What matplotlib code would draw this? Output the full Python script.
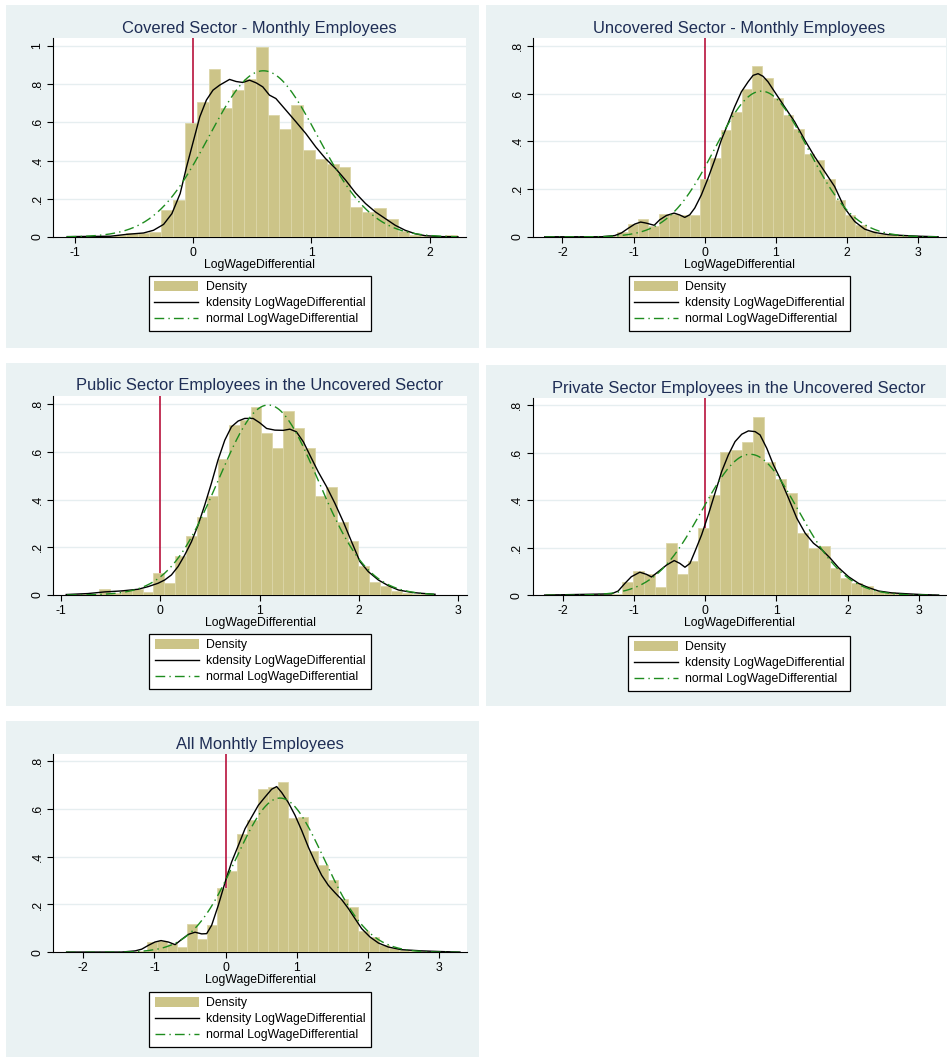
import numpy as np
import matplotlib
matplotlib.use("Agg")
import matplotlib.pyplot as plt
from matplotlib.patches import Rectangle, Patch
from matplotlib.lines import Line2D

plt.rcParams['font.family'] = ['Liberation Sans', 'DejaVu Sans']

W, H = 947, 1057

# ---------------- data ----------------
titles = [
    "Covered Sector - Monthly Employees",
    "Uncovered Sector - Monthly Employees",
    "Public Sector Employees in the Uncovered Sector",
    "Private Sector Employees in the Uncovered Sector",
    "All Monhtly Employees",
]

# histogram: first bin edge, bin width, bar heights
hist_start = [-1.07, -2.245, -0.94, -2.245, -2.245]
hist_width = [0.1, 0.1454, 0.1087, 0.1535, 0.1417]

dens1 = [0.003, 0.0, 0.005, 0.005, 0.01, 0.02, 0.022, 0.025, 0.141, 0.192,
         0.595, 0.705, 0.881, 0.674, 0.768, 0.824, 0.991, 0.637, 0.567, 0.688,
         0.454, 0.408, 0.380, 0.365, 0.157, 0.131, 0.152, 0.092, 0.031, 0.012,
         0.005, 0.005, 0.009]
dens2 = [0.002, 0.001, 0.001, 0.002, 0.002, 0.003, 0.003, 0.019, 0.054, 0.075,
         0.044, 0.096, 0.096, 0.092, 0.093, 0.242, 0.329, 0.447, 0.524, 0.617,
         0.714, 0.663, 0.583, 0.51, 0.45, 0.346, 0.322, 0.242, 0.156, 0.09,
         0.049, 0.024, 0.014, 0.01, 0.007, 0.004, 0.003, 0.001]
dens3 = [0.003, 0.004, 0.006, 0.024, 0.007, 0.02, 0.024, 0.011, 0.092, 0.052,
         0.163, 0.247, 0.328, 0.416, 0.569, 0.712, 0.733, 0.787, 0.68, 0.618,
         0.77, 0.698, 0.614, 0.416, 0.454, 0.306, 0.226, 0.123, 0.056, 0.036,
         0.017, 0.008, 0.006, 0.004]
dens4 = [0.004, 0.002, 0.002, 0.003, 0.004, 0.005, 0.004, 0.057, 0.104, 0.088,
         0.035, 0.221, 0.09, 0.144, 0.282, 0.422, 0.601, 0.611, 0.646, 0.748,
         0.559, 0.49, 0.43, 0.26, 0.2, 0.206, 0.113, 0.071, 0.053, 0.039,
         0.02, 0.012, 0.008, 0.005, 0.004, 0.002]
dens5 = [0.002, 0.001, 0.001, 0.002, 0.002, 0.003, 0.003, 0.006, 0.043, 0.046,
         0.036, 0.022, 0.12, 0.057, 0.113, 0.269, 0.339, 0.496, 0.552, 0.682,
         0.691, 0.712, 0.562, 0.566, 0.422, 0.364, 0.304, 0.224, 0.19, 0.09,
         0.065, 0.032, 0.018, 0.011, 0.007, 0.004, 0.003, 0.002, 0.001]
densities = [dens1, dens2, dens3, dens4, dens5]

# kernel density curves (x, y)
kd1_x = [-1.065, -0.70, -0.56, -0.42, -0.336, -0.25, -0.18, -0.11, -0.056, 0.0,
         0.056, 0.112, 0.168, 0.224, 0.308, 0.364, 0.42, 0.477, 0.533, 0.589,
         0.645, 0.70, 0.785, 0.87, 0.953, 1.037, 1.12, 1.205, 1.29, 1.374,
         1.458, 1.542, 1.626, 1.71, 1.794, 1.878, 1.962, 2.10, 2.24]
kd1_y = [0.002, 0.004, 0.014, 0.021, 0.035, 0.066, 0.122, 0.227, 0.366, 0.497,
         0.628, 0.716, 0.768, 0.794, 0.824, 0.813, 0.808, 0.82, 0.806, 0.785,
         0.742, 0.724, 0.663, 0.602, 0.541, 0.471, 0.41, 0.358, 0.297, 0.230,
         0.175, 0.131, 0.096, 0.061, 0.035, 0.017, 0.007, 0.002, 0.001]
kd2_x = [-2.247, -1.45, -1.264, -1.17, -1.077, -0.983, -0.9, -0.82, -0.71, -0.632,
         -0.538, -0.43, -0.35, -0.28, -0.21, -0.14, -0.047, 0.047, 0.14, 0.234,
         0.328, 0.42, 0.515, 0.61, 0.68, 0.75, 0.82, 0.89, 0.983, 1.124,
         1.264, 1.405, 1.545, 1.685, 1.826, 1.966, 2.107, 2.247, 2.388, 2.575,
         2.81, 3.04, 3.28]
kd2_y = [0.001, 0.001, 0.006, 0.017, 0.036, 0.054, 0.0625, 0.058, 0.049, 0.072,
         0.09, 0.1, 0.092, 0.082, 0.093, 0.121, 0.176, 0.246, 0.322, 0.406,
         0.475, 0.544, 0.607, 0.649, 0.676, 0.683, 0.672, 0.649, 0.607, 0.544,
         0.482, 0.406, 0.336, 0.274, 0.211, 0.121, 0.065, 0.033, 0.019, 0.01,
         0.006, 0.003, 0.001]
kd3_x = [-0.948, -0.73, -0.56, -0.393, -0.225, -0.124, -0.024, 0.044, 0.111, 0.178,
         0.245, 0.313, 0.38, 0.447, 0.514, 0.58, 0.649, 0.716, 0.783, 0.85,
         0.934, 1.0, 1.07, 1.153, 1.237, 1.304, 1.37, 1.44, 1.506, 1.59,
         1.674, 1.758, 1.842, 1.926, 2.01, 2.094, 2.195, 2.296, 2.397, 2.53,
         2.63, 2.766]
kd3_y = [0.002, 0.006, 0.013, 0.017, 0.024, 0.035, 0.049, 0.063, 0.084, 0.119,
         0.167, 0.223, 0.293, 0.377, 0.468, 0.565, 0.649, 0.705, 0.729, 0.74,
         0.74, 0.722, 0.698, 0.691, 0.69, 0.695, 0.684, 0.642, 0.586, 0.516,
         0.454, 0.384, 0.307, 0.223, 0.14, 0.098, 0.063, 0.039, 0.021, 0.011,
         0.007, 0.003]
kd4_x = [-2.258, -1.695, -1.32, -1.225, -1.13, -1.04, -0.92, -0.826, -0.756, -0.662,
         -0.545, -0.437, -0.357, -0.286, -0.216, -0.146, -0.052, 0.042, 0.136, 0.23,
         0.324, 0.418, 0.512, 0.606, 0.7, 0.77, 0.864, 0.958, 1.05, 1.17,
         1.286, 1.404, 1.52, 1.64, 1.756, 1.873, 2.014, 2.155, 2.296, 2.437,
         2.624, 2.86, 3.05, 3.28]
kd4_y = [0.001, 0.004, 0.006, 0.018, 0.05, 0.078, 0.097, 0.088, 0.077, 0.099,
         0.127, 0.146, 0.134, 0.118, 0.134, 0.184, 0.254, 0.338, 0.429, 0.52,
         0.59, 0.646, 0.677, 0.691, 0.688, 0.674, 0.618, 0.548, 0.492, 0.408,
         0.324, 0.261, 0.219, 0.191, 0.156, 0.116, 0.078, 0.05, 0.032, 0.018,
         0.01, 0.006, 0.003, 0.001]
kd5_x = [-2.233, -1.46, -1.27, -1.18, -1.086, -0.993, -0.908, -0.805, -0.71, -0.618,
         -0.524, -0.43, -0.337, -0.267, -0.197, -0.103, 0.0, 0.084, 0.178, 0.272,
         0.365, 0.459, 0.552, 0.646, 0.716, 0.787, 0.88, 0.974, 1.067, 1.161,
         1.255, 1.348, 1.442, 1.536, 1.63, 1.723, 1.816, 1.91, 2.027, 2.144,
         2.285, 2.47, 2.753, 3.03, 3.29]
kd5_y = [0.001, 0.001, 0.006, 0.013, 0.029, 0.043, 0.049, 0.043, 0.032, 0.054,
         0.075, 0.084, 0.077, 0.078, 0.113, 0.197, 0.301, 0.378, 0.447, 0.517,
         0.566, 0.615, 0.649, 0.682, 0.693, 0.668, 0.626, 0.573, 0.51, 0.44,
         0.378, 0.322, 0.28, 0.249, 0.22, 0.183, 0.141, 0.099, 0.064, 0.039,
         0.022, 0.011, 0.006, 0.003, 0.001]
kd_x = [kd1_x, kd2_x, kd3_x, kd4_x, kd5_x]
kd_y = [kd1_y, kd2_y, kd3_y, kd4_y, kd5_y]

# normal overlay: mean and sd of LogWageDifferential
norm_mean = [0.594, 0.796, 1.086, 0.63, 0.763]
norm_sd = [0.459, 0.654, 0.501, 0.673, 0.6185]

xticks = [[-1, 0, 1, 2], [-2, -1, 0, 1, 2, 3], [-1, 0, 1, 2, 3],
          [-2, -1, 0, 1, 2, 3], [-2, -1, 0, 1, 2, 3]]
yticks = [[0, 0.2, 0.4, 0.6, 0.8, 1.0], [0, 0.2, 0.4, 0.6, 0.8],
          [0, 0.2, 0.4, 0.6, 0.8], [0, 0.2, 0.4, 0.6, 0.8], [0, 0.2, 0.4, 0.6, 0.8]]
ytick_labels = [["0", ".2", ".4", ".6", ".8", "1"]] + [["0", ".2", ".4", ".6", ".8"]] * 4
xlims = [(-1.183, 2.308), (-2.409, 3.387), (-1.078, 3.085), (-2.426, 3.379), (-2.421, 3.385)]
ylims = [1.039, 0.831, 0.834, 0.828, 0.828]

# layout in pixels: panel background box, plot region box
panel_boxes = [(6, 5, 479, 348), (486, 5, 947, 348), (6, 363, 479, 706),
               (486, 365, 946, 706), (6, 721, 479, 1057)]
plot_boxes = [(53.3, 38.3, 466, 237), (533.3, 38.3, 945.7, 237), (53.3, 396, 466.7, 595),
              (532.7, 398.3, 945.7, 595.3), (53.3, 754.3, 466.7, 952.3)]

BAR = '#CCC488'
BAR_EDGE = '#DCD6A8'
BG = '#EAF2F3'
GRID = '#E6EEF0'
RED = '#B8123C'
GREEN = '#1E8C1E'
TITLE = '#1E2D55'
DASHDOT = (0, (7, 3, 1, 3))

fig = plt.figure(figsize=(W / 100, H / 100), dpi=100)

for i in range(5):
    px0, py0, px1, py1 = panel_boxes[i]
    fig.patches.append(Rectangle((px0 / W, 1 - py1 / H), (px1 - px0) / W, (py1 - py0) / H,
                                 transform=fig.transFigure, facecolor=BG,
                                 edgecolor='none', zorder=-10))
    x0, y0, x1, y1 = plot_boxes[i]
    ax = fig.add_axes([x0 / W, 1 - y1 / H, (x1 - x0) / W, (y1 - y0) / H])
    ax.set_zorder(1)
    ax.set_facecolor('white')

    heights = np.array(densities[i])
    edges = hist_start[i] + hist_width[i] * np.arange(len(heights))
    ax.bar(edges, heights, width=hist_width[i], align='edge', color=BAR,
           edgecolor=BAR_EDGE, linewidth=0.6, zorder=3)

    ax.axvline(0, color=RED, linewidth=1.2, zorder=2)

    ax.plot(kd_x[i], kd_y[i], color='black', linewidth=1.0, zorder=4)

    xs = np.linspace(hist_start[i], hist_start[i] + hist_width[i] * len(heights), 200)
    m, s = norm_mean[i], norm_sd[i]
    ax.plot(xs, np.exp(-0.5 * ((xs - m) / s) ** 2) / (s * np.sqrt(2 * np.pi)),
            color=GREEN, linewidth=1.0, linestyle=DASHDOT, zorder=5)

    ax.set_xlim(*xlims[i])
    ax.set_ylim(0, ylims[i])
    ax.set_xticks(xticks[i])
    ax.set_xticklabels([str(t) for t in xticks[i]], fontsize=8.8)
    ax.set_yticks(yticks[i])
    ax.set_yticklabels(ytick_labels[i], fontsize=8.8, rotation=90, va='center')
    for yv in yticks[i][1:]:
        ax.axhline(yv, color=GRID, linewidth=1.0, zorder=1)
    for side in ['top', 'right']:
        ax.spines[side].set_visible(False)
    for side in ['left', 'bottom']:
        ax.spines[side].set_linewidth(0.8)
    ax.tick_params(direction='out', length=4, width=0.8, pad=3)
    ax.set_xlabel("LogWageDifferential", fontsize=8.8, labelpad=0)
    ax.set_title(titles[i], fontsize=11.9, color=TITLE, pad=4)

    handles = [Patch(facecolor=BAR, edgecolor='none'),
               Line2D([], [], color='black', linewidth=1.0),
               Line2D([], [], color=GREEN, linewidth=1.0, linestyle=DASHDOT)]
    labels = ["Density", "kdensity LogWageDifferential", "normal LogWageDifferential"]
    cx = (x0 + x1) / 2
    leg_top = py0 + 270.7
    leg = ax.legend(handles, labels, loc='upper center',
                    bbox_to_anchor=(cx / W, 1 - leg_top / H), bbox_transform=fig.transFigure,
                    borderaxespad=0, fontsize=8.8, frameon=True, fancybox=False,
                    edgecolor='black', framealpha=1, borderpad=0.45, labelspacing=0.3,
                    handlelength=3.6, handleheight=0.9, handletextpad=0.6)
    leg.get_frame().set_linewidth(0.9)

fig.savefig("out.png", dpi=100)
